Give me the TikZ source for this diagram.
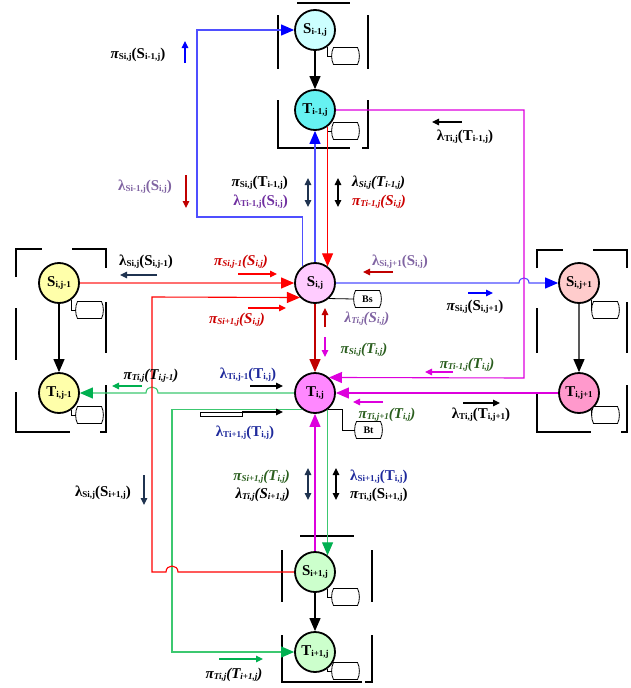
\documentclass[tikz,border=0pt]{standalone}
\usepackage{fontspec}
\setmainfont{Liberation Serif}
\usetikzlibrary{arrows.meta}
\definecolor{lav}{HTML}{8064A2}
\definecolor{pur}{HTML}{7030A0}
\definecolor{rd}{HTML}{CC0000}
\definecolor{dgr}{HTML}{2A5E1E}
\definecolor{dbl}{HTML}{1F2A9C}
\definecolor{navy}{HTML}{1F3350}
\definecolor{mag}{HTML}{DD00DD}
\definecolor{grn}{HTML}{00B050}
\definecolor{grnl}{HTML}{3CC870}
\definecolor{blu}{HTML}{0000FF}
\definecolor{blul}{HTML}{4F4FFF}
\definecolor{redl}{HTML}{FF6F6F}
\definecolor{dred}{HTML}{C00000}
\definecolor{cSm}{HTML}{CCFFFF}
\definecolor{cTm}{HTML}{66F2F2}
\definecolor{cSl}{HTML}{FFFFAA}
\definecolor{cSr}{HTML}{FFCCCC}
\definecolor{cTr}{HTML}{FF99CC}
\definecolor{cS}{HTML}{FFCCFF}
\definecolor{cT}{HTML}{FF88FF}
\definecolor{cSp}{HTML}{CCFFCC}
\newcommand\sbx[1]{\raisebox{-0.8pt}{\fontsize{9}{9}\selectfont #1}}
\newcommand\lbl[4]{#1\sbx{#2}(#3\sbx{#4})}
\newcommand\ppi{{\itshape π}}
\tikzset{
  st/.style={circle, draw, line width=1.8pt, minimum size=40pt, inner sep=0pt, font=\bfseries\fontsize{15}{16}\selectfont},
  lbu/.style={inner sep=0pt, font=\bfseries\fontsize{15}{16}\selectfont},
  lbi/.style={inner sep=0pt, font=\bfseries\itshape\fontsize{15}{16}\selectfont},
  big/.style={line width=1.1pt, -{Triangle[length=13pt,width=11pt]}},
  sm/.style={line width=1.2pt, -{Triangle[length=7pt,width=6.5pt]}},
  dsm/.style={line width=1.2pt, {Triangle[length=7pt,width=6.5pt]}-{Triangle[length=7pt,width=6.5pt]}},
  brk/.style={line width=2.6pt},
  icl/.style={line width=0.8pt},
  bx/.style={minimum width=27pt, minimum height=17pt, inner sep=0pt, font=\bfseries\fontsize{10}{10}\selectfont},
  store/.pic={
    \coordinate (-w) at (-0.5,0);
    \draw[line width=0.8pt, fill=white] (1.5,-8.5) -- (25.5,-8.5) .. controls (28,-4) and (28,4) .. (25.5,8.5) -- (1.5,8.5) .. controls (-1,4) and (-1,-4) .. (1.5,-8.5) -- cycle;
  }
}
\begin{document}
\begin{tikzpicture}[x=1pt,y=-1pt]
\useasboundingbox (0,0) rectangle (631,688);
% brackets
\draw[brk] (297,3) -- (350,3);
\draw[brk] (278,15) -- (278,69);
\draw[brk] (368,15) -- (368,69);
\draw[brk] (278,100) -- (278,148) -- (350,148);
\draw[brk] (368,100) -- (368,148) -- (362,148);
\draw[brk] (300,536) -- (354,536);
\draw[brk] (282,550) -- (282,602);
\draw[brk] (372,550) -- (372,602);
\draw[brk] (282,635) -- (282,682) -- (362,682);
\draw[brk] (372,635) -- (372,682) -- (365,682);
\draw[brk] (16,277) -- (16,249) -- (42,249);
\draw[brk] (72,249) -- (106,249) -- (106,268);
\draw[brk] (16,308) -- (16,360);
\draw[brk] (106,302) -- (106,353);
\draw[brk] (16,392) -- (16,432) -- (70,432);
\draw[brk] (106,385) -- (106,432) -- (100,432);
\draw[brk] (537,268) -- (537,250) -- (563,250);
\draw[brk] (593,250) -- (627,250) -- (627,268);
\draw[brk] (537,308) -- (537,353);
\draw[brk] (627,302) -- (627,353);
\draw[brk] (537,392) -- (537,432) -- (591,432);
\draw[brk] (627,385) -- (627,432) -- (621,432);
% nodes
\node[st, fill=cSm] (Sm) at (315,30) {S\sbx{i-1,j}};
\node[st, fill=cTm] (Tm) at (315,110) {T\sbx{i-1,j}};
\node[st, fill=cSl] (Sl) at (59,283) {S\sbx{i,j-1}};
\node[st, fill=cSl] (Tl) at (59,393) {T\sbx{i,j-1}};
\node[st, fill=cSr] (Sr) at (579,283) {S\sbx{i,j+1}};
\node[st, fill=cTr] (Tr) at (579,393) {T\sbx{i,j+1}};
\node[st, fill=cS] (S) at (315,283) {S\sbx{i,j}};
\node[st, fill=cT] (T) at (315,393) {T\sbx{i,j}};
\node[st, fill=cSp] (Sp) at (315,572) {S\sbx{i+1,j}};
\node[st, fill=cSp] (Tp) at (315,652) {T\sbx{i+1,j}};
% storage icons
\pic (iSm) at (332,56) {store};
\pic (iTm) at (332,131) {store};
\pic (iSl) at (76,310) {store};
\pic (iTl) at (76,415) {store};
\pic (iSr) at (592,310) {store};
\pic (iTr) at (592,415) {store};
\pic (iSp) at (332,597) {store};
\pic (iTp) at (332,671) {store};
\foreach \n in {Sm,Tm,Sl,Tl,Sr,Tr,Sp,Tp}{\draw[icl] (\n.-53.13) |- (i\n-w);}
\pic at (354,299) {store};
\node[bx] (Bs) at (367.5,299) {Bs};
\pic at (355,430) {store};
\node[bx] (Bt) at (368.5,430) {Bt};
\draw[icl] (S.-48.6) -- (Bs.west);
\draw[icl] (T.-50) -| (342,430) -- (Bt.west);
% vertical black arrows
\draw[big] (Sm) -- (Tm);
\draw[big] (Sl) -- (Tl);
\draw[big, draw=black!65, -{Triangle[length=13pt,width=11pt,color=black]}] (Sr) -- (Tr);
\draw[big] (Sp) -- (Tp);
% connectors
\draw[big, dred] (S) -- (T);
\draw[big, redl, -{Triangle[length=13pt,width=11pt,color=red]}] (Sl) -- (S);
\draw[big, red] (Tm.-53.13) -- (S.53.13);
\draw[big, blul, -{Triangle[length=13pt,width=11pt,color=blu]}] (S) -- (Tm);
\draw[big, blul, -{Triangle[length=13pt,width=11pt,color=blu]}] (S.126.87) |- (197,217) |- (Sm.west);
\draw[big, blul, -{Triangle[length=13pt,width=11pt,color=blu]}] (S.east) -- (519,283) .. controls (519,276.3) and (529,276.3) .. (529,283) -- (Sr.west);
\draw[big, mag] (Tm.east) -| (524,378) -- (T.48.6);
\draw[big, mag] (Tr) -- (T);
\draw[big, mag] (Sp) -- (T);
\draw[big, grnl, -{Triangle[length=13pt,width=11pt,color=grn]}] (T.west) -- (158,393) .. controls (158,385) and (146,385) .. (146,393) -- (Tl.east);
\draw[big, grnl, -{Triangle[length=13pt,width=11pt,color=grn]}] (T.-53.13) -- (Sp.53.13);
\draw[big, grnl, -{Triangle[length=13pt,width=11pt,color=grn]}] (T.233.13) -| (172,652) -- (Tp.west);
\draw[big, red] (Sp.west) -- (178,572) .. controls (178,564) and (166,564) .. (166,572) -- (152,572) -- (152,297) -- (S.224.4);
% small indicator arrows
\draw[sm, blu] (185,63) -- (185,41);
\draw[sm, dred] (186,175) -- (186,208);
\draw[dsm, navy] (308,178) -- (308,207);
\draw[dsm, black] (338,178) -- (338,207);
\draw[sm, black] (462,122) -- (432,122);
\draw[sm, navy] (157,275) -- (120,275);
\draw[sm, red] (238,274) -- (277,274);
\draw[sm, red] (248,308) -- (286,308);
\draw[sm, dred] (393,272) -- (363,272);
\draw[sm, blu] (468,293) -- (493,293);
\draw[sm, dred] (325,327) -- (325,308);
\draw[sm, mag] (325,337) -- (325,357);
\draw[sm, mag] (453,372) -- (425,372);
\draw[sm, black] (463,403) -- (500,403);
\draw[sm, mag] (383,402) -- (353,402);
\draw[sm, black] (250,386) -- (283,386);
\draw[sm, grn] (142,386) -- (112,386);
\draw[line width=0.7pt] (200,412) rectangle (242,416);
\draw[sm, black] (242,412) -- (283,412);
\draw[dsm, navy] (308,468) -- (308,500);
\draw[dsm, black] (336,468) -- (336,500);
\draw[sm, navy] (144,475) -- (144,505);
\draw[sm, grn] (219,659) -- (263,659);
% labels
\node[lbu] (L1) at (138,55) {\lbl{\ppi}{Si,j}{S}{i-1,j}};
\node[lbu, lav] (L2) at (145,187) {\lbl{λ}{Si-1,j}{S}{i,j}};
\node[lbu, anchor=east] (L3) at (288,183) {\lbl{\ppi}{Si,j}{T}{i-1,j}};
\node[lbu, pur, anchor=east] (L4) at (288,202) {\lbl{λ}{Ti-1,j}{S}{i,j}};
\node[lbi, anchor=west] (L5) at (352,183) {\lbl{λ}{Si,j}{T}{i-1,j}};
\node[lbi, rd, anchor=west] (L6) at (352,202) {\lbl{π}{Ti-1,j}{S}{i,j}};
\node[lbu] (L7) at (465,137) {\lbl{λ}{Ti,j}{T}{i-1,j}};
\node[lbu] (L8) at (146,262) {\lbl{λ}{Si,j}{S}{i,j-1}};
\node[lbi, rd] (L9) at (241,262) {\lbl{π}{Si,j-1}{S}{i,j}};
\node[lbi, rd] (L10) at (237,320) {\lbl{π}{Si+1,j}{S}{i,j}};
\node[lbu, lav] (L11) at (400,262) {\lbl{λ}{Si,j+1}{S}{i,j}};
\node[lbu] (L12) at (475,307) {\lbl{\ppi}{Si,j}{S}{i,j+1}};
\node[lbi, lav] (L13) at (367,319) {\lbl{λ}{Ti,j}{S}{i,j}};
\node[lbi, dgr] (L14) at (364,350) {\lbl{π}{Si,j}{T}{i,j}};
\node[lbi, dgr] (L15) at (467,365) {\lbl{π}{Ti-1,j}{T}{i,j}};
\node[lbu] (L16) at (481,415) {\lbl{λ}{Ti,j}{T}{i,j+1}};
\node[lbi, dgr] (L17) at (387,415) {\lbl{π}{Ti,j+1}{T}{i,j}};
\node[lbu, dbl] (L18) at (248,375) {\lbl{λ}{Ti,j-1}{T}{i,j}};
\node[lbi] (L19) at (151,376) {\lbl{π}{Ti,j}{T}{i,j-1}};
\node[lbu, dbl] (L20) at (245,433) {\lbl{λ}{Ti+1,j}{T}{i,j}};
\node[lbi, dgr, anchor=east] (L21) at (290,477) {\lbl{π}{Si+1,j}{T}{i,j}};
\node[lbi, anchor=east] (L22) at (290,495) {\lbl{λ}{Ti,j}{S}{i+1,j}};
\node[lbu, dbl, anchor=west] (L23) at (350,477) {\lbl{λ}{Si+1,j}{T}{i,j}};
\node[lbu, anchor=west] (L24) at (350,495) {\lbl{\ppi}{Ti,j}{S}{i+1,j}};
\node[lbu] (L25) at (103,493) {\lbl{λ}{Si,j}{S}{i+1,j}};
\node[lbi] (L26) at (234,675) {\lbl{π}{Ti,j}{T}{i+1,j}};
\end{tikzpicture}
\end{document}
